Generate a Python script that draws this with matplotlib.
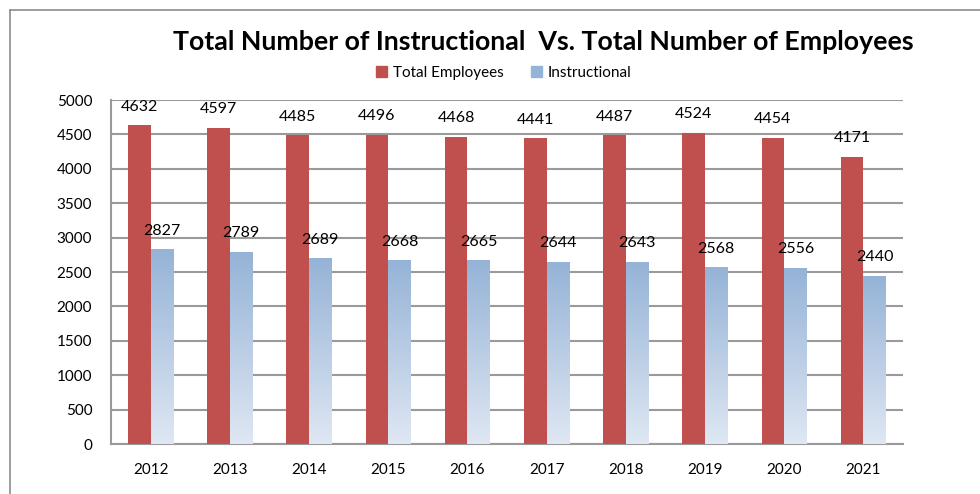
import numpy as np
import matplotlib.pyplot as plt
from matplotlib.colors import LinearSegmentedColormap
from matplotlib.patches import Patch

years = ['2012', '2013', '2014', '2015', '2016', '2017', '2018', '2019', '2020', '2021']
total_employees = [4632, 4597, 4485, 4496, 4468, 4441, 4487, 4524, 4454, 4171]
instructional = [2827, 2789, 2689, 2668, 2665, 2644, 2643, 2568, 2556, 2440]

plt.rcParams['font.family'] = ['Lato', 'DejaVu Sans']

red = '#C0504D'
blue_top = '#95B3D7'
blue_bot = '#DFE7F3'
grid_c = '#9A9A9A'

fig = plt.figure(figsize=(9.8, 4.94), dpi=100)
ax = fig.add_axes([111 / 980, 1 - 444 / 494, (903 - 111) / 980, (444 - 100) / 494])

x = np.arange(len(years))
w = 0.285
red_bars = ax.bar(x - w / 2, total_employees, w, color=red, zorder=3)
blue_bars = ax.bar(x + w / 2, instructional, w, color='none', zorder=3)

# vertical gradient for the instructional bars
cmap = LinearSegmentedColormap.from_list('grad', [blue_bot, blue_top])
grad = np.linspace(0, 1, 256).reshape(-1, 1)
for b in blue_bars:
    x0, y0 = b.get_x(), b.get_y()
    ax.imshow(grad, cmap=cmap, origin='lower', aspect='auto', zorder=3,
              extent=(x0, x0 + b.get_width(), y0, y0 + b.get_height()))

for bars, vals in [(red_bars, total_employees), (blue_bars, instructional)]:
    for b, v in zip(bars, vals):
        ax.text(b.get_x() + b.get_width() / 2, v + 170, str(v), ha='center', va='bottom',
                fontsize=11.5, zorder=4)

ax.set_xlim(-0.5, len(years) - 0.5)
ax.set_ylim(0, 5000)
ax.set_yticks(np.arange(0, 5001, 500))
ax.set_xticks(x)
ax.set_xticklabels(years)
ax.tick_params(axis='both', length=0, labelsize=11)
ax.tick_params(axis='y', pad=13.5)
ax.tick_params(axis='x', pad=14)
ax.yaxis.grid(True, color=grid_c, linewidth=1.5, zorder=0)
ax.set_axisbelow(True)
for s in ['top', 'right']:
    ax.spines[s].set_visible(False)
for s in ['left', 'bottom']:
    ax.spines[s].set_color(grid_c)
    ax.spines[s].set_linewidth(1.5)

fig.text(543 / 980, 1 - 42 / 494, 'Total Number of Instructional  Vs. Total Number of Employees',
         ha='center', va='center', fontsize=19.3, fontweight='bold')

handles = [Patch(color=red, label='Total Employees'), Patch(color=blue_top, label='Instructional')]
fig.legend(handles=handles, loc='center', bbox_to_anchor=(504 / 980, 1 - 73 / 494), ncol=2,
           frameon=False, fontsize=11, handlelength=0.7, handleheight=0.7, handletextpad=0.4,
           columnspacing=1.8)

# outer chart border (left and top edges visible)
fig.add_artist(plt.Line2D([10 / 980, 10 / 980], [0, 1 - 10 / 494], color='#8C8C8C', lw=1.2,
                          transform=fig.transFigure))
fig.add_artist(plt.Line2D([10 / 980, 1], [1 - 10 / 494, 1 - 10 / 494], color='#8C8C8C', lw=1.2,
                          transform=fig.transFigure))

fig.savefig('out.png', dpi=100)
